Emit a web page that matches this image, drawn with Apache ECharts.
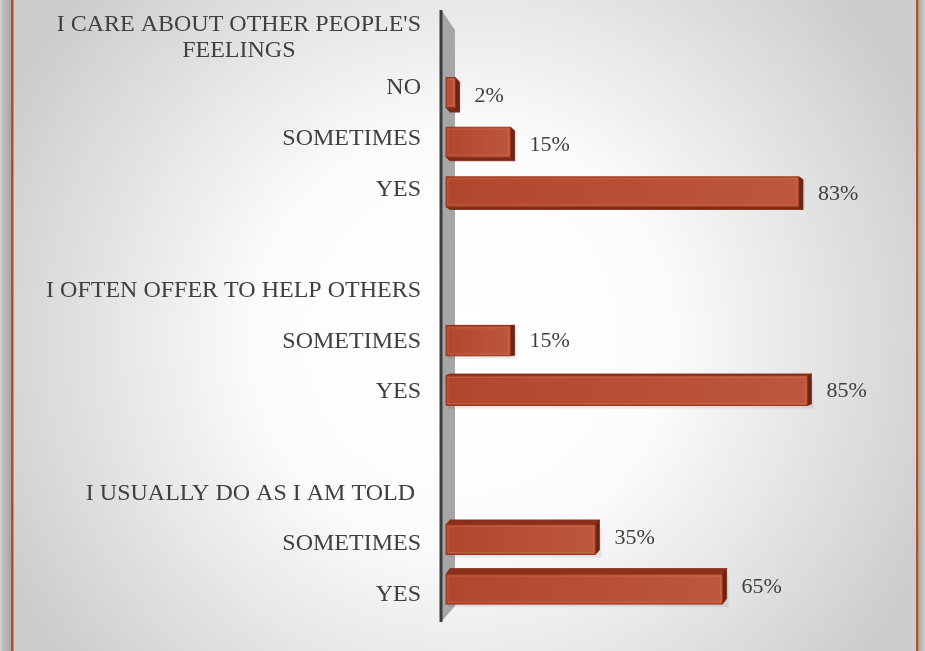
<!DOCTYPE html>
<html>
<head>
<meta charset="utf-8">
<script src="https://cdn.jsdelivr.net/npm/echarts@6/dist/echarts.min.js"></script>
<style>
  html, body { margin: 0; padding: 0; background: #d0d0d0; }
  #chart { width: 925px; height: 651px; }
</style>
</head>
<body>
<div id="chart"></div>
<script>
// Survey rows, top to bottom. Question headers and spacer rows carry no value.
const categories = [
  "I CARE ABOUT OTHER PEOPLE'S FEELINGS",
  "NO",
  "SOMETIMES",
  "YES",
  "",
  "I OFTEN OFFER TO HELP OTHERS",
  "SOMETIMES",
  "YES",
  "",
  "I USUALLY DO AS I AM TOLD ",
  "SOMETIMES",
  "YES"
];
const values = [null, 2, 15, 83, null, null, 15, 85, null, null, 35, 65];

const FONT = "'Liberation Serif', 'DejaVu Serif', serif";
const TEXT = '#404040';

const GRID = { left: 451, right: 50, top: 12, bottom: 31 };
const CHART_H = 651;
const HORIZON = (GRID.top + CHART_H - GRID.bottom) / 2;

// Wrap long question headers onto centred lines.
function wrapHeader(text, maxChars) {
  if (text.length <= maxChars) return '{h|' + text + '}';
  const words = text.split(' ');
  const lines = [];
  let cur = '';
  words.forEach(w => {
    const next = cur ? cur + ' ' + w : w;
    if (next.length > maxChars && cur) { lines.push(cur); cur = w; }
    else cur = next;
  });
  if (cur) lines.push(cur);
  return lines.map(l => '{h|' + l + '}').join('\n');
}

const barData = [];
values.forEach((v, i) => { if (v != null) barData.push([v, i]); });

// Extruded bar seen in perspective: rows below the horizon show their top
// face, rows above it show their underside; every bar shows its right end.
function renderBar(params, api) {
  const v = api.value(0);
  const c = api.value(1);
  const zero = api.coord([0, c]);
  const end = api.coord([v, c]);
  const rowY = zero[1];
  const cy = rowY + 0.03 * (HORIZON - rowY);
  const d = 0.02 * (rowY - HORIZON);      // >0 top face, <0 underside
  const dx = 4;
  const hF = 30;
  const x0 = zero[0] - 5;                   // base inset against the wall
  const x1 = end[0] - dx;                   // front face right edge
  const yF0 = cy - hF / 2 + d / 2;
  const yF1 = yF0 + hF;
  const children = [];
  // soft drop shadow
  children.push({ type: 'rect', shape: { x: x0 + 2, y: yF0 + 3, width: Math.max(x1 - x0, 1) + dx, height: hF },
    style: { fill: 'rgba(0,0,0,0.07)' } });
  if (d > 0) {
    children.push({ type: 'polygon',
      shape: { points: [[x0, yF0], [x0 + dx, yF0 - d], [x1 + dx, yF0 - d], [x1, yF0]] },
      style: { fill: '#8a311d', stroke: '#87301b', lineWidth: 0.8 } });
  } else {
    children.push({ type: 'polygon',
      shape: { points: [[x0, yF1], [x0 + dx, yF1 - d], [x1 + dx, yF1 - d], [x1, yF1]] },
      style: { fill: '#7a2a16', stroke: '#76280f', lineWidth: 0.8 } });
  }
  children.push({ type: 'polygon',
    shape: { points: [[x1, yF0], [x1 + dx, yF0 - d], [x1 + dx, yF1 - d], [x1, yF1]] },
    style: { fill: '#6c2512', stroke: '#6a2411', lineWidth: 0.8 } });
  children.push({ type: 'rect', shape: { x: x0, y: yF0, width: Math.max(x1 - x0, 1), height: hF },
    style: {
      fill: new echarts.graphic.LinearGradient(0, 0, 1, 0, [
        { offset: 0, color: '#b0462d' },
        { offset: 1, color: '#bd573f' }
      ]),
      stroke: '#9a3319', lineWidth: 1
    } });
  // bevel highlight along the front face
  children.push({ type: 'rect', shape: { x: x0 + 2, y: yF0 + 2, width: Math.max(x1 - x0 - 4, 0), height: hF - 4 },
    style: { fill: null, stroke: 'rgba(230,130,100,0.35)', lineWidth: 1 } });
  children.push({ type: 'text', style: {
      x: end[0] + 15, y: cy + 1, text: v + '%',
      font: '22px ' + FONT, fill: TEXT,
      textAlign: 'left', textVerticalAlign: 'middle'
    } });
  return { type: 'group', children };
}

const chart = echarts.init(document.getElementById('chart'));

chart.setOption({
  backgroundColor: {
    type: 'radial', x: 0.5, y: 0.52, r: 0.78,
    colorStops: [
      { offset: 0, color: '#ffffff' },
      { offset: 0.4, color: '#fcfcfc' },
      { offset: 1, color: '#cdcdcd' }
    ]
  },
  animation: false,
  grid: GRID,
  xAxis: { type: 'value', min: 0, max: 100, show: false },
  yAxis: {
    type: 'category',
    inverse: true,
    data: categories,
    axisLine: { show: false },
    axisTick: { show: false },
    splitLine: { show: false },
    axisLabel: {
      interval: 0,
      margin: 30,
      fontFamily: FONT,
      fontSize: 24,
      color: TEXT,
      align: 'right',
      formatter: (name, idx) => {
        if (values[idx] == null && name.trim() !== '') return wrapHeader(name, 30);
        return name;
      },
      rich: {
        h: { align: 'center', fontFamily: FONT, fontSize: 24, color: TEXT, lineHeight: 26 }
      }
    }
  },
  graphic: [
    // back wall beside the category axis
    { type: 'polygon', z: 1, silent: true,
      shape: { points: [[442, 11], [455, 30], [455, 606], [442, 621]] },
      style: { fill: '#a6a6a6' } },
    { type: 'line', z: 2, silent: true,
      shape: { x1: 441, y1: 10, x2: 441, y2: 622 },
      style: { stroke: '#3c3c3c', lineWidth: 3 } },
    // slide frame: shadow strips and orange rules
    { type: 'rect', z: 10, silent: true, shape: { x: 0, y: 0, width: 11, height: 651 },
      style: { fill: new echarts.graphic.LinearGradient(0, 0, 1, 0, [
        { offset: 0, color: '#d4d4d4' }, { offset: 0.35, color: '#b9b9b9' }, { offset: 1, color: '#a9a9a9' }]) } },
    { type: 'rect', z: 10, silent: true, shape: { x: 11, y: 0, width: 2.5, height: 651 },
      style: { fill: '#b4501e' } },
    { type: 'rect', z: 10, silent: true, shape: { x: 916, y: 0, width: 2.5, height: 651 },
      style: { fill: '#b4501e' } },
    { type: 'rect', z: 10, silent: true, shape: { x: 918.5, y: 0, width: 6.5, height: 651 },
      style: { fill: new echarts.graphic.LinearGradient(0, 0, 1, 0, [
        { offset: 0, color: '#a9a9a9' }, { offset: 1, color: '#cfcfcf' }]) } }
  ],
  series: [{
    type: 'custom',
    coordinateSystem: 'cartesian2d',
    z: 3,
    encode: { x: 0, y: 1 },
    data: barData,
    renderItem: renderBar
  }]
});
</script>
</body>
</html>
